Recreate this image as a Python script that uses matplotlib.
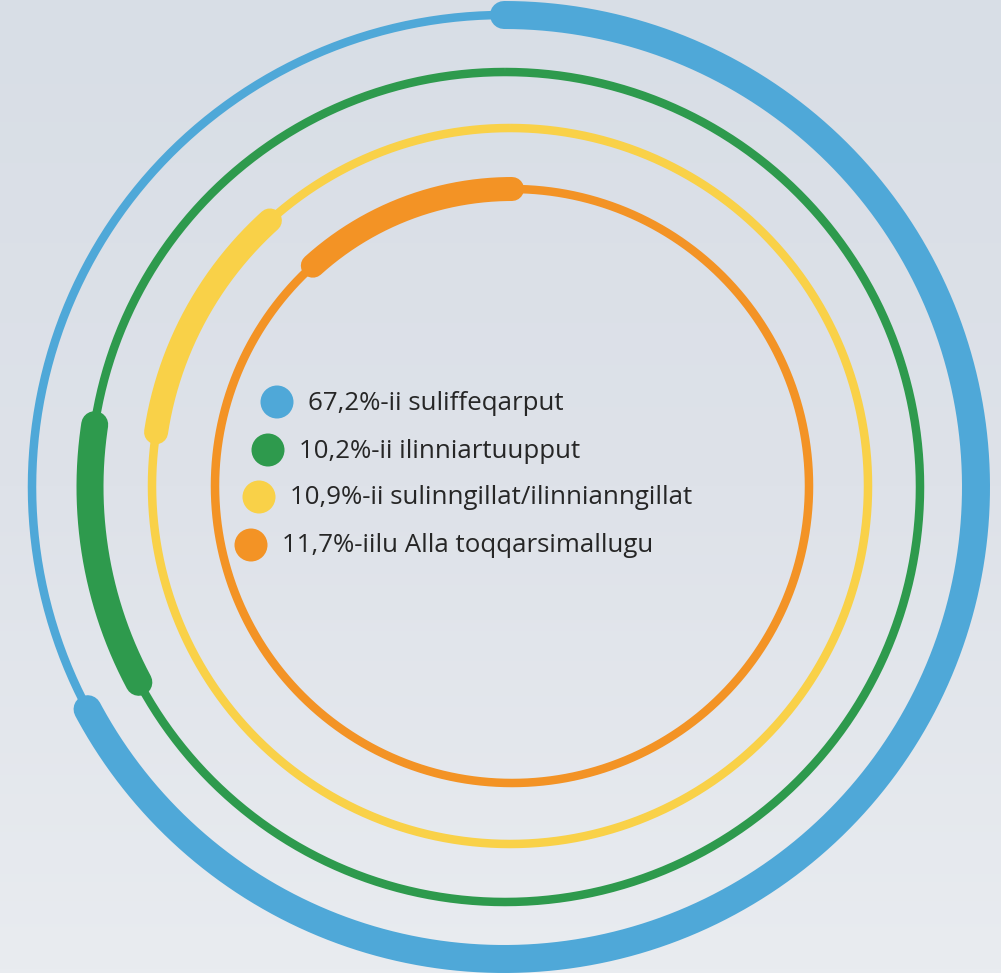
import numpy as np
import matplotlib
matplotlib.use("Agg")
import matplotlib.pyplot as plt
from matplotlib.colors import LinearSegmentedColormap

# ---- data ----
labels = ["67,2%-ii suliffeqarput", "10,2%-ii ilinniartuupput",
          "10,9%-ii sulinngillat/ilinnianngillat", "11,7%-iilu Alla toqqarsimallugu"]
values = [67.2, 10.2, 10.9, 11.7]
colors = ["#4fa8d8", "#2e9a4d", "#f9d148", "#f39325"]

W, H, DPI = 1001, 973, 100
fig = plt.figure(figsize=(W / DPI, H / DPI), dpi=DPI)

# background gradient
bg = fig.add_axes([0, 0, 1, 1])
grad = np.linspace(0, 1, 256).reshape(-1, 1)
cm = LinearSegmentedColormap.from_list("bg", ["#d8dee6", "#dee2e9", "#e9ecf0"])
bg.imshow(grad, aspect="auto", cmap=cm, extent=[0, 1, 0, 1], origin="upper")
bg.set_axis_off()

# ring geometry (pixels)
centers = [(504, 487), (505, 487), (510, 486), (512, 486)]
radii = [472, 415, 358, 297]
thin_px = [8.5, 8.5, 8.5, 8.5]
thick_px = [28, 27, 24, 24]
px2pt = 72 / DPI
Rax = 500

cum = np.concatenate([[0], np.cumsum(values)])
full = np.linspace(0, 2 * np.pi, 721)
for i, (r, c) in enumerate(zip(radii, colors)):
    cx, cy = centers[i]
    ax = fig.add_axes([(cx - Rax) / W, 1 - (cy + Rax) / H, 2 * Rax / W, 2 * Rax / H],
                      projection="polar")
    ax.patch.set_alpha(0)
    ax.set_theta_zero_location("N")
    ax.set_theta_direction(-1)
    ax.set_ylim(0, Rax)
    ax.set_axis_off()
    ax.plot(full, np.full_like(full, r), color=c, lw=thin_px[i] * px2pt,
            solid_capstyle="butt", zorder=2)
    t0 = cum[i] / 100 * 2 * np.pi
    t1 = cum[i + 1] / 100 * 2 * np.pi
    th = np.linspace(t0, t1, 400)
    ax.plot(th, np.full_like(th, r), color=c, lw=thick_px[i] * px2pt,
            solid_capstyle="round", zorder=3)

# legend
ov = fig.add_axes([0, 0, 1, 1])
ov.set_xlim(0, W)
ov.set_ylim(H, 0)
ov.set_axis_off()
ov.patch.set_alpha(0)
dot_x = [277, 268, 259, 251]
dot_y = [402, 450, 497, 545]
for lab, c, x, y in zip(labels, colors, dot_x, dot_y):
    ov.scatter([x], [y], s=(33 * px2pt) ** 2, color=c, edgecolors="none", zorder=5)
    ov.text(x + 31, y + 1, lab, fontsize=18.6, family="Open Sans", color="#262626",
            va="center", ha="left", zorder=5)

fig.savefig("out.png", dpi=DPI)
